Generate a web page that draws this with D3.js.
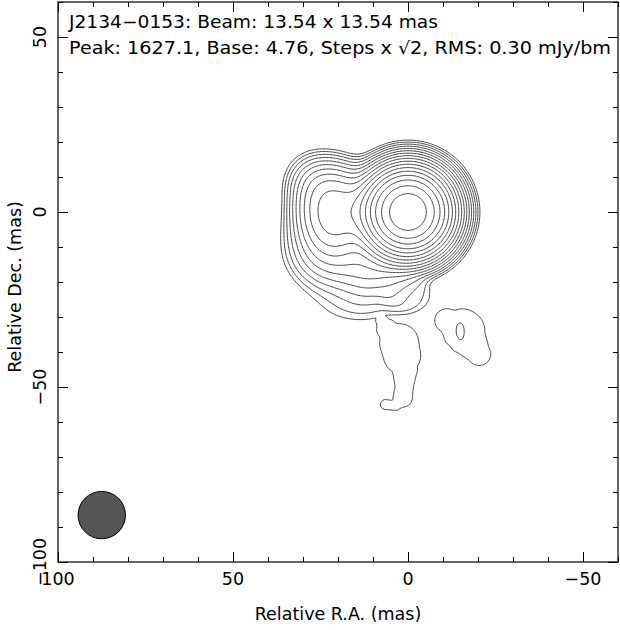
<!DOCTYPE html>
<html>
<head>
<meta charset="utf-8">
<script src="https://cdn.jsdelivr.net/npm/d3@7"></script>
<style>
  body { margin: 0; background: #fff; }
  text { font-family: "DejaVu Sans", sans-serif; fill: #000; }
</style>
</head>
<body>
<div id="map"></div>
<script>

// header values
var source = "J2134\u22120153";
var beam = {major: 13.54, minor: 13.54, ra: 87.5, dec: -86.6};
var peak = 1627.1, base = 4.76, rms = 0.30;

// contour levels in mJy/beam (base x sqrt2 steps)
var levels = [4.76, 6.73, 9.52, 13.46, 19.04, 26.93, 38.08, 53.86, 76.16,
              107.7, 152.3, 215.4, 304.6, 430.8, 609.3, 861.7, 1218.6];

// model components: ra, dec (mas), peak (mJy/beam),
// fwhm along RA, fwhm along Dec (mas), profile exponent
//                core  E1    NE   E2   S1   SS     SB
var compRA    = [0,    21,   27,  22,  10,  14,    0];
var compDec   = [0,    1,    9,   -10, -17, -27.5, -24];
var compPeak  = [1627, 118,  18,  40,  22,  5.5,   5.9];
var compFwhmA = [15.6, 15,   11,  16,  14,  22,    14];
var compFwhmB = [15.6, 17,   11,  16,  12,  10,    10];
var compShape = [2.2,  2.4,  2,   2,   2,   2,     4];

// faint ridges at the base level: spine points and widths (mas)
var tailRA     = [7.5, 6, 2.5, 1.7, 0.9, 1.1, 1.5, 3.5, 6.5];
var tailDec    = [-31, -33.5, -37.5, -41, -45, -50, -53, -55.3, -55];
var tailWidth  = [4.7, 8, 15, 14.3, 9.7, 7, 7.4, 3.8, 3.8];
var islandRA    = [-11, -16, -20.3];
var islandDec   = [-31, -34, -40.5];
var islandWidth = [9, 16, 9];
var ridgePeak = 5.9;

// small knot on top of the island
var knot = {ra: -14.9, dec: -34.2, peak: 1.0, fwhmA: 4.5, fwhmB: 10};

// axis ticks
var xTicks = [100, 50, 0, -50];
var yTicks = [50, 0, -50, -100];
var xMinor = [100, 90, 80, 70, 60, 50, 40, 30, 20, 10, 0, -10, -20, -30, -40, -50, -60];
var yMinor = [60, 50, 40, 30, 20, 10, 0, -10, -20, -30, -40, -50, -60, -70, -80, -90, -100];

var W = 620, H = 630;
var m = {left: 58, right: 618, top: 2, bottom: 562};

var svg = d3.select("#map")
  .append("svg")
    .attr("width", W)
    .attr("height", H);

var x = d3.scaleLinear().domain([100, -60]).range([m.left, m.right]);
var y = d3.scaleLinear().domain([60, -100]).range([m.top, m.bottom]);

var LN2 = Math.LN2;

// flat-topped ridge along a polyline
function ridge(ra, dec, R, D, Wd) {
  var best = Infinity;
  for (var s = 0; s < R.length - 1; s++) {
    var dx = R[s + 1] - R[s], dy = D[s + 1] - D[s];
    var t = ((ra - R[s]) * dx + (dec - D[s]) * dy) / (dx * dx + dy * dy);
    t = Math.max(0, Math.min(1, t));
    var px = R[s] + t * dx - ra, py = D[s] + t * dy - dec;
    var w = Wd[s] + t * (Wd[s + 1] - Wd[s]);
    var r = 2 * Math.sqrt(px * px + py * py) / w;
    if (r < best) best = r;
  }
  if (best > 3) return 0;
  return ridgePeak * Math.exp(-LN2 * Math.pow(best, 4));
}

// brightness grid
var step = 0.4, ra0 = 100, dec0 = 60;
var n = Math.round(160 / step) + 1;
var values = new Float64Array(n * n);
for (var j = 0; j < n; j++) {
  var dec = dec0 - j * step;
  for (var i = 0; i < n; i++) {
    var ra = ra0 - i * step;
    var v = 0;
    for (var k = 0; k < compRA.length; k++) {
      var du = 2 * (ra - compRA[k]) / compFwhmA[k];
      var dv = 2 * (dec - compDec[k]) / compFwhmB[k];
      var rr = du * du + dv * dv;
      if (rr > 60) continue;
      v += compPeak[k] * Math.exp(-LN2 * Math.pow(rr, compShape[k] / 2));
    }
    if (ra < 15 && ra > -30 && dec < -20 && dec > -65) {
      v = Math.max(v, ridge(ra, dec, tailRA, tailDec, tailWidth));
      v = Math.max(v, ridge(ra, dec, islandRA, islandDec, islandWidth));
      var ku = 2 * (ra - knot.ra) / knot.fwhmA, kv = 2 * (dec - knot.dec) / knot.fwhmB;
      v += knot.peak * Math.exp(-LN2 * (ku * ku + kv * kv));
    }
    values[j * n + i] = v;
  }
}

var contours = d3.contours().size([n, n]).thresholds(levels)(values);

var toPlot = d3.geoTransform({
  point: function(u, w) {
    this.stream.point(x(ra0 - (u - 0.5) * step), y(dec0 - (w - 0.5) * step));
  }
});
var path = d3.geoPath(toPlot);

svg.append("clipPath").attr("id", "frame")
  .append("rect")
    .attr("x", m.left).attr("y", m.top)
    .attr("width", m.right - m.left).attr("height", m.bottom - m.top);

svg.append("g")
    .attr("clip-path", "url(#frame)")
  .selectAll("path")
  .data(contours)
  .enter()
  .append("path")
    .attr("d", path)
    .attr("fill", "none")
    .attr("stroke", "#333")
    .attr("stroke-width", 0.9);

// beam
svg.append("ellipse")
  .attr("cx", x(beam.ra))
  .attr("cy", y(beam.dec))
  .attr("rx", Math.abs(x(0) - x(beam.minor / 2)))
  .attr("ry", Math.abs(y(0) - y(beam.major / 2)))
  .attr("fill", "#555")
  .attr("stroke", "#000")
  .attr("stroke-width", 1);

// ticks on all four sides, pointing in
var sides = [
  [d3.axisBottom, x, "translate(0," + m.bottom + ")", xMinor, xTicks],
  [d3.axisTop, x, "translate(0," + m.top + ")", xMinor, xTicks],
  [d3.axisLeft, y, "translate(" + m.left + ",0)", yMinor, yTicks],
  [d3.axisRight, y, "translate(" + m.right + ",0)", yMinor, yTicks]
];
sides.forEach(function(s) {
  svg.append("g").attr("transform", s[2])
    .call(s[0](s[1]).tickValues(s[3]).tickSize(-5).tickFormat(""));
  svg.append("g").attr("transform", s[2])
    .call(s[0](s[1]).tickValues(s[4]).tickSize(-10).tickFormat(""));
});
svg.selectAll(".domain").remove();
svg.selectAll(".tick line").attr("stroke", "#000").attr("stroke-width", 1);

// frame
svg.append("rect")
  .attr("x", m.left).attr("y", m.top)
  .attr("width", m.right - m.left).attr("height", m.bottom - m.top)
  .attr("fill", "none")
  .attr("stroke", "#000")
  .attr("stroke-width", 1.2);

function fmt(v) { return v < 0 ? "\u2212" + Math.abs(v) : String(v); }

// tick labels
svg.selectAll(".xlab")
  .data(xTicks)
  .enter()
  .append("text")
    .attr("x", function(d) { return x(d); })
    .attr("y", 585)
    .attr("text-anchor", "middle")
    .style("font-size", "17.5px")
    .text(fmt);

svg.selectAll(".ylab")
  .data(yTicks)
  .enter()
  .append("text")
    .attr("transform", function(d) { return "translate(46," + y(d) + ") rotate(-90)"; })
    .attr("text-anchor", "middle")
    .style("font-size", "17.5px")
    .text(fmt);

// axis titles
svg.append("text")
  .attr("x", 338).attr("y", 620)
  .attr("text-anchor", "middle")
  .style("font-size", "17.5px")
  .text("Relative R.A. (mas)");

svg.append("text")
  .attr("transform", "translate(21,287) rotate(-90)")
  .attr("text-anchor", "middle")
  .style("font-size", "17.5px")
  .text("Relative Dec. (mas)");

// header
svg.append("text")
  .attr("x", 69).attr("y", 28)
  .attr("textLength", 369).attr("lengthAdjust", "spacingAndGlyphs")
  .style("font-size", "17.5px")
  .text(source + ": Beam: " + beam.major.toFixed(2) + " x " + beam.minor.toFixed(2) + " mas");

svg.append("text")
  .attr("x", 69).attr("y", 54)
  .attr("textLength", 542).attr("lengthAdjust", "spacingAndGlyphs")
  .style("font-size", "17.5px")
  .text("Peak: " + peak.toFixed(1) + ", Base: " + base.toFixed(2) + ", Steps x \u221A2, RMS: " + rms.toFixed(2) + " mJy/bm");

</script>
</body>
</html>
